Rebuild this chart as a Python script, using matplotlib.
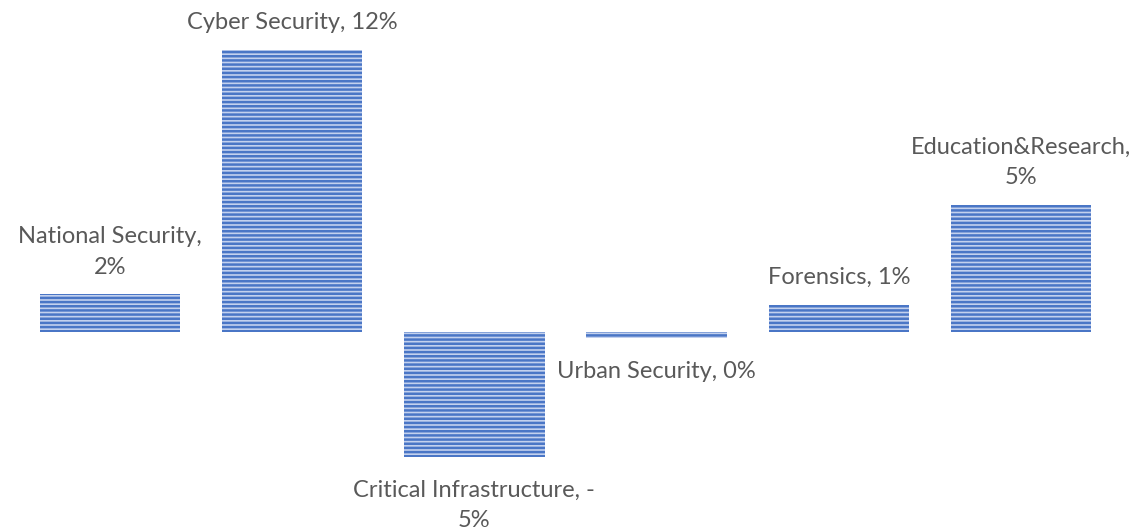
import matplotlib.pyplot as plt

categories = ["National Security", "Cyber Security", "Critical Infrastructure",
              "Urban Security", "Forensics", "Education&Research"]
values = [1.6, 12.0, -5.3, -0.25, 1.15, 5.4]
labels = ["National Security,\n2%", "Cyber Security, 12%", "Critical Infrastructure, -\n5%",
          "Urban Security, 0%", "Forensics, 1%", "Education&Research,\n5%"]

plt.rcParams['font.family'] = ['Lato', 'DejaVu Sans']
plt.rcParams['hatch.linewidth'] = 1.8

W, H = 1139, 529
fig = plt.figure(figsize=(W / 100, H / 100), dpi=100)
ax = fig.add_axes([19 / W, 0, (1112 - 19) / W, 1])

x = list(range(len(values)))
bars = ax.bar(x, values, width=0.77, color='#c3d1ee', edgecolor='#4a76c6',
              linewidth=0, hatch='----')

for xi, v, lab in zip(x, values, labels):
    if v >= 0:
        ax.annotate(lab, (xi, v), xytext=(0, 12), textcoords='offset points',
                    ha='center', va='bottom', fontsize=17, color='#595959',
                    linespacing=1.55)
    else:
        ax.annotate(lab, (xi, v), xytext=(0, -17), textcoords='offset points',
                    ha='center', va='top', fontsize=17, color='#595959',
                    linespacing=1.5)

ax.set_xlim(-0.5, 5.5)
ax.set_ylim(-197 / 23.5, 332 / 23.5)
ax.axis('off')

fig.savefig('out.png', dpi=100)
